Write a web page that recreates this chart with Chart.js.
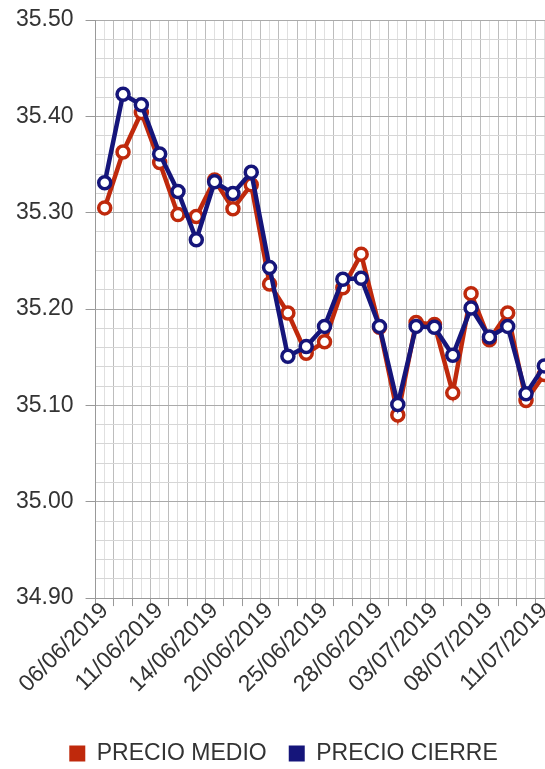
<!DOCTYPE html>
<html>
<head>
<meta charset="utf-8">
<script src="https://cdn.jsdelivr.net/npm/chart.js@4"></script>
<style>
  html, body { margin: 0; padding: 0; background: #fff; overflow: hidden; }
  #wrap { width: 563px; height: 769px; }
</style>
</head>
<body>
<div id="wrap"><canvas id="chart" width="563" height="769"></canvas></div>
<script>
// Dates (trading days) shown on the x axis; only every third one gets a label.
const DATES = [
  "06/06/2019", "07/06/2019", "10/06/2019", "11/06/2019", "12/06/2019",
  "13/06/2019", "14/06/2019", "17/06/2019", "18/06/2019", "20/06/2019",
  "21/06/2019", "24/06/2019", "25/06/2019", "26/06/2019", "27/06/2019",
  "28/06/2019", "01/07/2019", "02/07/2019", "03/07/2019", "04/07/2019",
  "05/07/2019", "08/07/2019", "09/07/2019", "10/07/2019", "11/07/2019"
];

const PRECIO_MEDIO = [
  35.305, 35.363, 35.404, 35.352, 35.298, 35.296, 35.334, 35.304, 35.329, 35.226,
  35.196, 35.154, 35.166, 35.222, 35.257, 35.181, 35.090, 35.186, 35.184, 35.113,
  35.216, 35.168, 35.196, 35.105, 35.132
];

const PRECIO_CIERRE = [
  35.331, 35.423, 35.412, 35.361, 35.322, 35.272, 35.332, 35.320, 35.342, 35.243,
  35.151, 35.161, 35.182, 35.231, 35.232, 35.182, 35.101, 35.182, 35.181, 35.152,
  35.201, 35.171, 35.182, 35.112, 35.141
];

const Y_MIN = 34.9;
const Y_MAX = 35.5;
const LABEL_EVERY = 3;

const RED  = "#bf290c";
const BLUE = "#15157a";
const FONT = { family: "'Liberation Sans', Arial, sans-serif", size: 23 };

function isMajor(v) {
  return Math.abs(v * 10 - Math.round(v * 10)) < 1e-6;
}

function series(label, data, color, order) {
  return {
    label, data, order,
    borderColor: color,
    backgroundColor: color,
    pointBackgroundColor: "#fff",
    pointBorderColor: color,
    pointRadius: 6,
    pointBorderWidth: 3.5,
    borderWidth: 4.5,
    tension: 0,
  };
}

new Chart(document.getElementById("chart"), {
  type: "line",
  data: {
    labels: DATES,
    datasets: [
      series("PRECIO MEDIO", PRECIO_MEDIO, RED, 2),
      series("PRECIO CIERRE", PRECIO_CIERRE, BLUE, 1),
    ],
  },
  options: {
    responsive: false,
    animation: false,
    layout: { padding: { left: 4, top: 0, right: 0, bottom: -6 } },
    plugins: {
      tooltip: { enabled: false },
      legend: {
        position: "bottom",
        labels: {
          color: "#333",
          font: FONT,
          boxWidth: 16,
          boxHeight: 16,
          padding: 22,
          sort: (a, b) => a.datasetIndex - b.datasetIndex,
          generateLabels: (chart) =>
            Chart.defaults.plugins.legend.labels.generateLabels(chart)
              .map(l => ({ ...l, lineWidth: 0, fillStyle: l.strokeStyle })),
        },
      },
    },
    scales: {
      x: {
        type: "category",
        offset: true,
        grid: {
          offset: true,
          color: "#bdbdbd",
          tickColor: "#999",
          tickLength: 8,
        },
        border: { color: "#999", width: 1 },
        ticks: {
          autoSkip: false,
          minRotation: 45,
          maxRotation: 45,
          color: "#333",
          font: FONT,
          padding: -9,
          callback: (v, i) => (i % LABEL_EVERY === 0 ? DATES[i] : ""),
        },
        // keep room below the date labels for the legend
        afterFit: s => { s.height += 31; },
      },
      // extra category scale that only draws the lighter lines through each date
      x2: {
        type: "category",
        labels: DATES,
        position: "top",
        offset: true,
        grid: { offset: false, color: "#e0e0e0", drawTicks: false },
        border: { display: false },
        ticks: { display: false },
        afterFit: s => { s.height = 0; },
      },
      y: {
        min: Y_MIN,
        max: Y_MAX,
        grid: {
          color: ctx => (isMajor(ctx.tick.value) ? "#aaa" : "#d6d6d6"),
          tickColor: ctx => (isMajor(ctx.tick.value) ? "#999" : "rgba(0,0,0,0)"),
          tickLength: 10,
        },
        border: { color: "#999", width: 1 },
        ticks: {
          stepSize: 0.02,
          maxTicksLimit: 50,
          autoSkip: false,
          color: "#333",
          font: FONT,
          padding: 12,
          callback: v => (isMajor(v) ? v.toFixed(2) : ""),
        },
        // top label only needs half its height above the plot
        afterFit: s => { s.paddingTop = 20; },
      },
    },
  },
});
</script>
</body>
</html>
